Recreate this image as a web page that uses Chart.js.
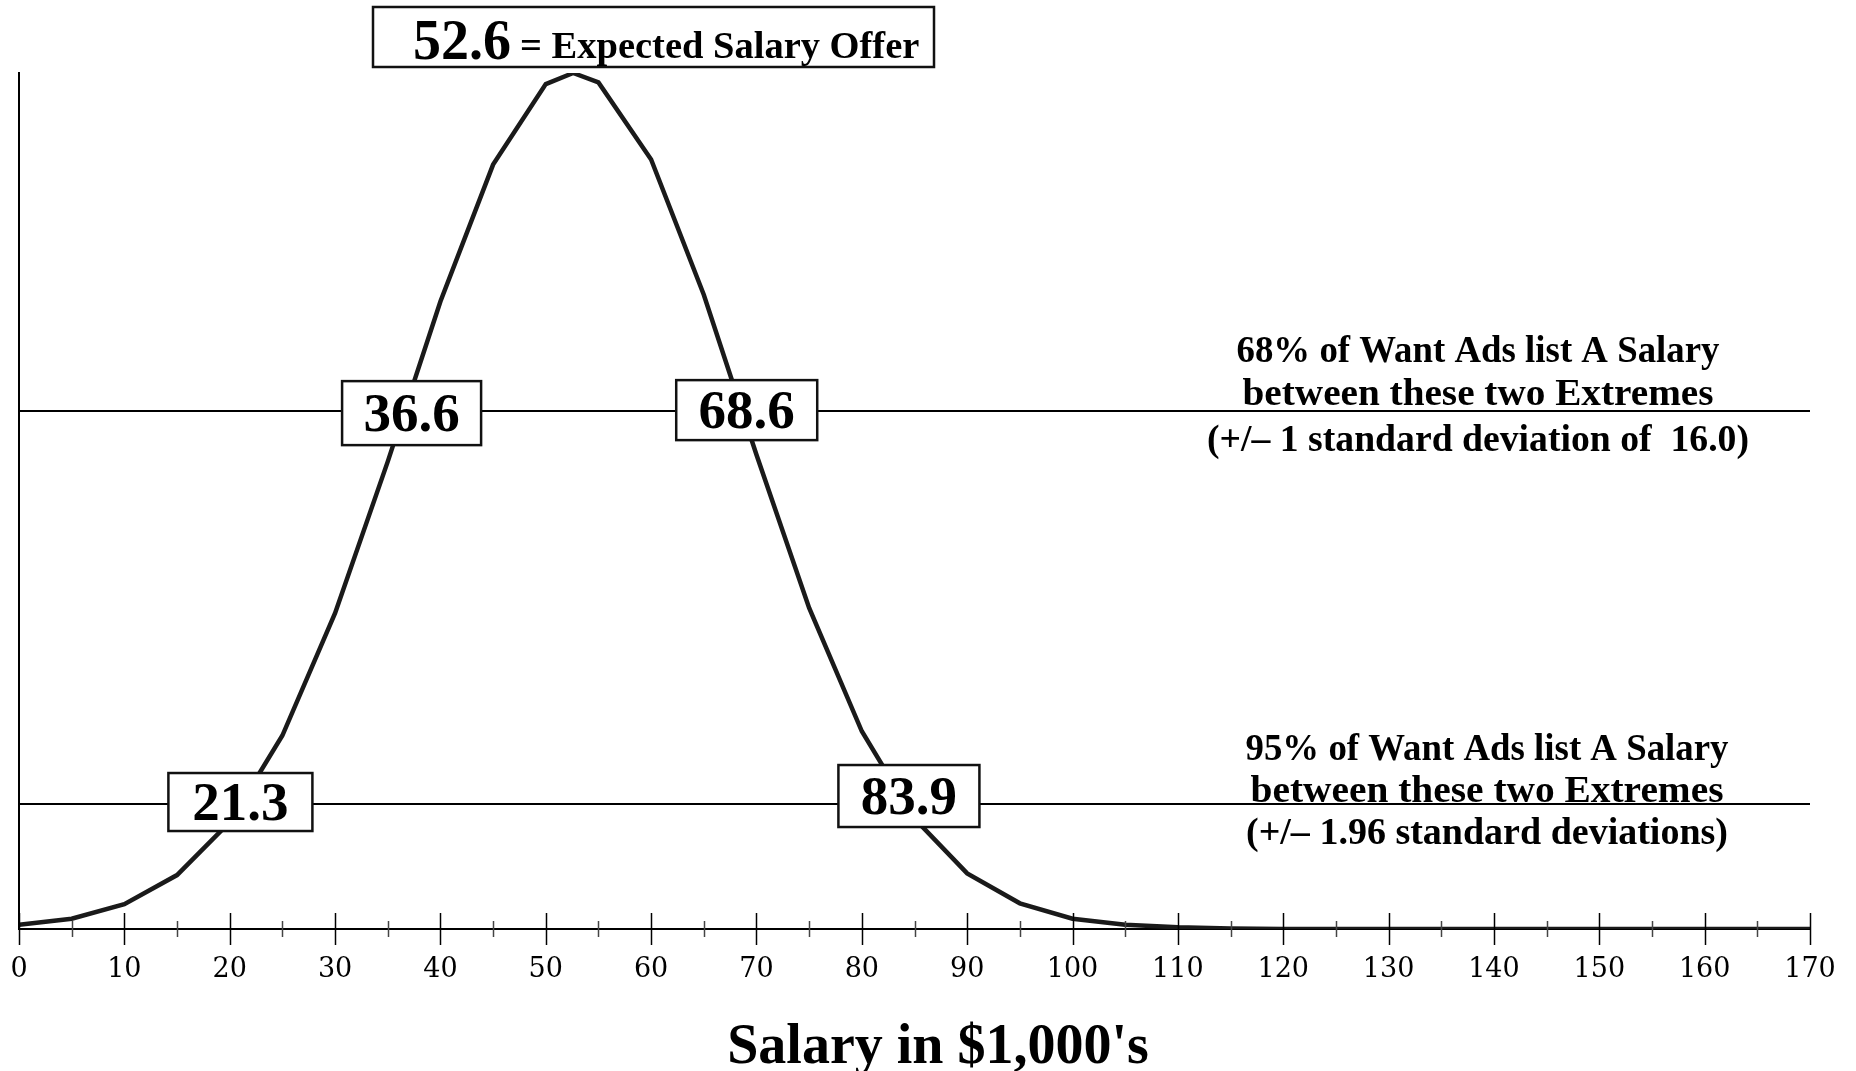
<!DOCTYPE html>
<html>
<head>
<meta charset="utf-8">
<script src="https://cdn.jsdelivr.net/npm/chart.js@4/dist/chart.umd.min.js"></script>
<style>
html,body{margin:0;padding:0;background:#fff;}
canvas{display:block;}
</style>
</head>
<body>
<canvas id="c" width="1856" height="1071"></canvas>
<script>
// ---- data ----
const salaryK = [0,5,10,15,20,25,30,35,40,45,50,52.6,55,60,65,70,75,80,85,90,95,100,105,110,115,120,125,130,135,140,145,150,155,160,165,170];
const relFrequency = [0.5,1.2,2.9,6.3,12.5,22.6,36.9,54.6,73.3,89.3,98.7,100,98.9,89.9,74.1,55.4,37.5,23.1,12.9,6.5,3.0,1.2,0.5,0.2,0.05,0,0,0,0,0,0,0,0,0,0,0];
const majorTicks = [0,10,20,30,40,50,60,70,80,90,100,110,120,130,140,150,160,170];
const minorTicks = [5,15,25,35,45,55,65,75,85,95,105,115,125,135,145,155,165];
const meanValue = 52.6;
const oneSdBounds = [36.6, 68.6];
const twoSdBounds = [21.3, 83.9];
const level68 = 60.5;   // height of the 68% band line
const level95 = 14.6;   // height of the 95% band line
const note68 = ["68% of Want Ads list A Salary","between these two Extremes","(+/\u2013 1 standard deviation of  16.0)"];
const note95 = ["95% of Want Ads list A Salary","between these two Extremes","(+/\u2013 1.96 standard deviations)"];
const meanLabel = "= Expected Salary Offer";
const xTitle = "Salary in $1,000's";

const BOLD = '"Liberation Serif", "Times New Roman", serif';
const REG = '"DejaVu Serif", serif';

const points = salaryK.map((x,i)=>({x:x, y:relFrequency[i]}));

function fitText(ctx, text, cx, y, w){
  const m = ctx.measureText(text).width;
  const s = w / m;
  ctx.save();
  ctx.translate(cx, y);
  ctx.scale(s, 1);
  ctx.textAlign = 'center';
  ctx.fillText(text, 0, 0);
  ctx.restore();
}

const overlay = {
  id:'overlay',
  beforeDatasetsDraw(chart){
    const {ctx, chartArea:a, scales:{y}} = chart;
    ctx.save();
    ctx.strokeStyle = '#000';
    ctx.lineWidth = 2;
    [level68, level95].forEach(v=>{
      const py = Math.round(y.getPixelForValue(v));
      ctx.beginPath(); ctx.moveTo(a.left, py); ctx.lineTo(a.right, py); ctx.stroke();
    });
    ctx.restore();
  },
  afterDatasetsDraw(chart){
    const {ctx, chartArea:a, scales:{x,y}} = chart;
    ctx.save();
    function box(cx, cy, w, h, text, size){
      ctx.fillStyle = '#fff';
      ctx.fillRect(cx-w/2, cy-h/2, w, h);
      ctx.strokeStyle = '#111';
      ctx.lineWidth = 2.5;
      ctx.strokeRect(cx-w/2, cy-h/2, w, h);
      ctx.fillStyle = '#000';
      ctx.font = 'bold '+size+'px '+BOLD;
      ctx.textAlign = 'center';
      ctx.textBaseline = 'alphabetic';
      ctx.fillText(text, cx, cy + size*0.33);
    }
    const y68 = y.getPixelForValue(level68);
    const y95 = y.getPixelForValue(level95);
    box(x.getPixelForValue(oneSdBounds[0])+7, y68+2, 139, 64, String(oneSdBounds[0]), 55);
    box(x.getPixelForValue(oneSdBounds[1])+5, y68-1, 141, 60, String(oneSdBounds[1]), 55);
    box(x.getPixelForValue(twoSdBounds[0])-3, y95-2, 144, 58, String(twoSdBounds[0]), 55);
    box(x.getPixelForValue(twoSdBounds[1])+6, y95-8, 141, 62, String(twoSdBounds[1]), 55);

    // mean box at top
    const bx0 = 373, bx1 = 934, by0 = 7, by1 = 67;
    ctx.fillStyle = '#fff';
    ctx.fillRect(bx0, by0, bx1-bx0, by1-by0);
    ctx.strokeStyle = '#111'; ctx.lineWidth = 2.5;
    ctx.strokeRect(bx0, by0, bx1-bx0, by1-by0);
    ctx.fillStyle = '#000';
    ctx.textAlign = 'left'; ctx.textBaseline = 'alphabetic';
    ctx.font = 'bold 56px '+BOLD;
    ctx.fillText(meanValue.toFixed(1), 413, 59);
    ctx.font = 'bold 38.5px '+BOLD;
    ctx.fillText(meanLabel, 520, 58);

    // notes
    ctx.font = 'bold 37px '+BOLD;
    const n68y = [362, 405, 451], n68w = [483, 471, 542];
    note68.forEach((t,i)=>fitText(ctx, t, 1478, n68y[i], n68w[i]));
    const n95y = [760, 802, 844], n95w = [483, 473, 482];
    note95.forEach((t,i)=>fitText(ctx, t, 1487, n95y[i], n95w[i]));

    // axis title
    ctx.textAlign = 'center';
    ctx.font = 'bold 56px '+BOLD;
    ctx.fillText(xTitle, 938, 1063);
    ctx.restore();
  },
  afterDraw(chart){
    const {ctx, scales:{x}} = chart;
    const base = x.top;
    ctx.save();
    ctx.strokeStyle = '#000';
    ctx.lineWidth = 1.5;
    majorTicks.forEach(v=>{
      const px = Math.round(x.getPixelForValue(v))+0.5;
      ctx.beginPath(); ctx.moveTo(px, base-16); ctx.lineTo(px, base+16); ctx.stroke();
    });
    ctx.strokeStyle = '#444';
    minorTicks.forEach(v=>{
      const px = Math.round(x.getPixelForValue(v))+0.5;
      ctx.beginPath(); ctx.moveTo(px, base-8); ctx.lineTo(px, base+8); ctx.stroke();
    });
    ctx.restore();
  }
};

new Chart(document.getElementById('c'), {
  type:'line',
  data:{ datasets:[{
    data: points,
    borderColor:'#1a1a1a',
    borderWidth:4.5,
    pointRadius:0,
    tension:0,
    fill:false
  }]},
  options:{
    responsive:false,
    animation:false,
    devicePixelRatio:1,
    layout:{ padding:{ left:0, right:46, top:73, bottom:0 } },
    plugins:{ legend:{display:false}, tooltip:{enabled:false}, title:{display:false} },
    scales:{
      x:{
        type:'linear', min:0, max:170,
        afterFit(s){ s.height = 142; s.paddingLeft = 0; s.paddingRight = 0; },
        grid:{ display:false, drawTicks:false },
        border:{ display:true, color:'#000', width:2 },
        ticks:{
          stepSize:10, autoSkip:false, maxRotation:0,
          color:'#000', padding:25,
          font:{ family:REG, size:27 },
          callback:(v)=> majorTicks.includes(v) ? String(v) : ''
        }
      },
      y:{
        min:0, max:100,
        afterFit(s){ s.width = 19; s.paddingTop = 0; s.paddingBottom = 0; },
        grid:{ display:false, drawTicks:false },
        border:{ display:true, color:'#000', width:2 },
        ticks:{ display:false }
      }
    }
  },
  plugins:[overlay]
});
</script>
</body>
</html>
